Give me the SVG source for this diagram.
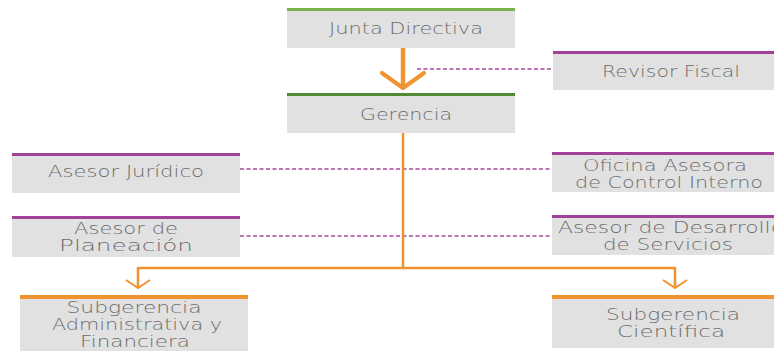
<svg xmlns="http://www.w3.org/2000/svg" width="774" height="351" viewBox="0 0 774 351">
<style>
.box{fill:#e1e1e1}
.t{font-family:"DejaVu Sans","Liberation Sans",sans-serif;font-size:15px;font-weight:300;fill:#6c6c6c;text-anchor:middle}
.g1{fill:#7bb24b}
.g2{fill:#4f8a35}
.pu{fill:#a2409a}
.or{fill:#ef9430}
.dash{stroke:#a8479a;stroke-width:1.6;stroke-dasharray:4 2.5;fill:none}
.conn{stroke:#ef9430;fill:none;stroke-linejoin:round}
</style>
<defs>
<marker id="chev" markerUnits="userSpaceOnUse" viewBox="0 0 12 26" refX="10" refY="13" markerWidth="12" markerHeight="26" orient="auto">
<path d="M2,1 L10,13 L2,25" fill="none" stroke="#ef9430" stroke-width="2"/>
</marker>
<marker id="bigchev" markerUnits="userSpaceOnUse" viewBox="0 0 20 48" refX="17" refY="24" markerWidth="20" markerHeight="48" orient="auto">
<path d="M2,3 L17,24 L2,45" fill="none" stroke="#ef9430" stroke-width="4" stroke-linecap="round" stroke-linejoin="round"/>
</marker>
</defs>
<g id="connectors">
<line class="conn" x1="403" y1="48" x2="403" y2="88" stroke-width="4.5" marker-end="url(#bigchev)"/>
<line class="dash" x1="417" y1="69" x2="553" y2="69"/>
<line class="dash" x1="240" y1="169" x2="552" y2="169"/>
<line class="dash" x1="240" y1="236" x2="552" y2="236"/>
<path class="conn" d="M403,133 V268 H138 V288" stroke-width="2.5" marker-end="url(#chev)"/>
<path class="conn" d="M403,268 H675 V288" stroke-width="2.5" marker-end="url(#chev)"/>
</g>
<g id="junta-directiva">
<rect class="box" x="287" y="10" width="228" height="38"/>
<rect class="g1" x="287" y="8" width="228" height="3"/>
<text class="t" x="406" y="34" textLength="154" lengthAdjust="spacingAndGlyphs">Junta Directiva</text>
</g>
<g id="gerencia">
<rect class="box" x="287" y="95" width="228" height="38"/>
<rect class="g2" x="287" y="93" width="228" height="3"/>
<text class="t" x="406" y="120" textLength="92" lengthAdjust="spacingAndGlyphs">Gerencia</text>
</g>
<g id="revisor-fiscal">
<rect class="box" x="553" y="53" width="230" height="37"/>
<rect class="pu" x="553" y="51" width="230" height="3"/>
<text class="t" x="671" y="77" textLength="138" lengthAdjust="spacingAndGlyphs">Revisor Fiscal</text>
</g>
<g id="asesor-juridico">
<rect class="box" x="12" y="155" width="228" height="38"/>
<rect class="pu" x="12" y="153" width="228" height="3"/>
<text class="t" x="126" y="177" textLength="156" lengthAdjust="spacingAndGlyphs">Asesor Jurídico</text>
</g>
<g id="asesor-planeacion">
<rect class="box" x="12" y="218" width="228" height="39"/>
<rect class="pu" x="12" y="216" width="228" height="3"/>
<text class="t" x="126" y="234" textLength="104" lengthAdjust="spacingAndGlyphs">Asesor de</text>
<text class="t" x="126" y="251" textLength="134" lengthAdjust="spacingAndGlyphs">Planeación</text>
</g>
<g id="oficina-control-interno">
<rect class="box" x="552" y="154" width="230" height="38"/>
<rect class="pu" x="552" y="152" width="230" height="3"/>
<text class="t" x="665" y="171" textLength="164" lengthAdjust="spacingAndGlyphs">Oficina Asesora</text>
<text class="t" x="669" y="188" textLength="188" lengthAdjust="spacingAndGlyphs">de Control Interno</text>
</g>
<g id="asesor-desarrollo">
<rect class="box" x="552" y="217" width="230" height="38"/>
<rect class="pu" x="552" y="215" width="230" height="3"/>
<text class="t" x="558" y="233" style="text-anchor:start" textLength="226" lengthAdjust="spacingAndGlyphs">Asesor de Desarrollo</text>
<text class="t" x="668" y="250" textLength="130" lengthAdjust="spacingAndGlyphs">de Servicios</text>
</g>
<g id="subgerencia-administrativa">
<rect class="box" x="20" y="298" width="228" height="53"/>
<rect class="or" x="20" y="295" width="228" height="4"/>
<text class="t" x="134" y="313" textLength="135" lengthAdjust="spacingAndGlyphs">Subgerencia</text>
<text class="t" x="137" y="330" textLength="170" lengthAdjust="spacingAndGlyphs">Administrativa y</text>
<text class="t" x="135" y="347" textLength="110" lengthAdjust="spacingAndGlyphs">Financiera</text>
</g>
<g id="subgerencia-cientifica">
<rect class="box" x="552" y="298" width="230" height="50"/>
<rect class="or" x="552" y="295" width="230" height="4"/>
<text class="t" x="673" y="320" textLength="134" lengthAdjust="spacingAndGlyphs">Subgerencia</text>
<text class="t" x="671" y="337" textLength="108" lengthAdjust="spacingAndGlyphs">Científica</text>
</g>
</svg>
